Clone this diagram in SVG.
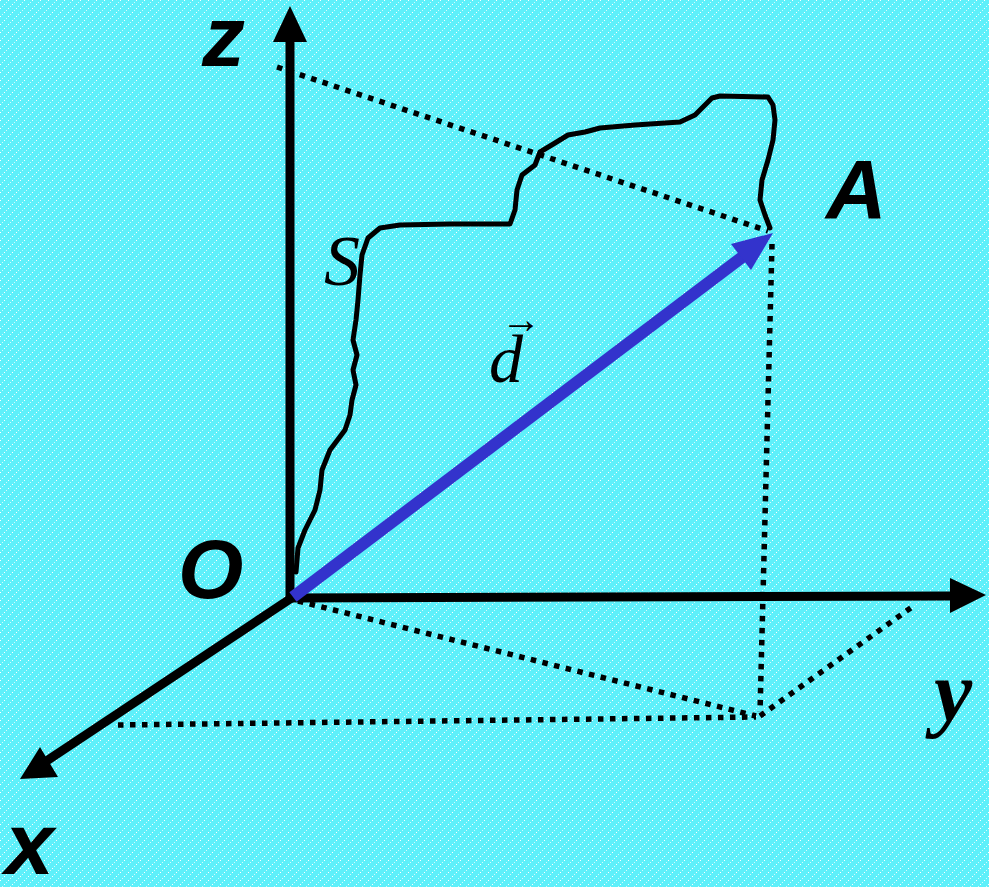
<svg xmlns="http://www.w3.org/2000/svg" width="989" height="887" viewBox="0 0 989 887">
<style>
.axis{stroke:#000;stroke-width:9;fill:none}
.dot{stroke:#000;stroke-width:5.5;stroke-dasharray:5.5 6.5;fill:none}
.sans{font-family:"Liberation Sans",Arial,sans-serif;font-weight:bold;font-style:italic;fill:#000}
.serif{font-family:"Liberation Serif","Times New Roman",serif;font-style:italic;fill:#000}
</style>
<defs>
<pattern id="bg" width="8" height="8" patternUnits="userSpaceOnUse">
<rect x="0" y="0" width="1" height="1" fill="#fff"/>
<rect x="4" y="4" width="1" height="1" fill="#fff"/>
<rect x="2" y="6" width="1" height="1" fill="#fff" fill-opacity="0.7"/>
<rect x="6" y="2" width="1" height="1" fill="#fff" fill-opacity="0.7"/>
</pattern>
</defs>
<rect width="989" height="887" fill="#5ef0fa"/>
<rect width="989" height="887" fill="url(#bg)"/>
<g id="connectors">
<line class="dot" x1="277" y1="67" x2="768" y2="231"/>
<line class="dot" x1="772" y1="244" x2="760" y2="712"/>
<line class="dot" x1="298" y1="601" x2="756" y2="716"/>
<line class="dot" x1="118" y1="725" x2="756" y2="717"/>
<line class="dot" x1="760" y1="716" x2="912" y2="607"/>
</g>
<g id="axis-z">
<line class="axis" x1="290" y1="600" x2="290" y2="38"/>
<polygon points="290,6 273,42 307,42" fill="#000"/>
</g>
<g id="axis-y">
<line class="axis" x1="287" y1="598" x2="955" y2="596"/>
<polygon points="986,595 950,578 950,613" fill="#000"/>
</g>
<g id="axis-x">
<line class="axis" x1="293" y1="597" x2="45" y2="762"/>
<polygon points="20,779 40,747 58,777" fill="#000"/>
</g>
<g id="path-S">
<polyline fill="none" stroke="#000" stroke-width="5" stroke-linejoin="round" stroke-linecap="round" points="296,572 298,548 305,530 315,510 320,490 322,470 330,450 345,430 350,415 352,400 356,385 353,370 357,355 353,340 356,320 358,300 360,275 362,255 368,238 380,228 400,225 450,224 510,224 515,210 517,190 522,175 535,165 540,152 555,143 568,135 585,132 600,128 635,125 680,122 695,115 705,105 712,98 720,96 768,97 773,105 775,120 773,140 768,160 762,180 760,200 765,215 770,228"/>
</g>
<g id="vector-d">
<line x1="293" y1="597" x2="745" y2="255" stroke="#3333cc" stroke-width="12"/>
<polygon points="773,233 751,270 731,244" fill="#3333cc"/>
</g>
<g id="labels">
<text class="sans" x="202" y="66" font-size="86">z</text>
<text class="sans" x="826" y="219" font-size="84">A</text>
<text class="sans" x="178" y="598" font-size="84">O</text>
<text class="sans" x="5" y="874" font-size="88">x</text>
<text class="serif" x="934" y="720" font-size="86" font-weight="bold">y</text>
<text class="serif" x="324" y="285" font-size="72">S</text>
<text class="serif" x="489" y="382" font-size="68">d</text>
<text font-family="Liberation Serif,serif" x="501" y="333" font-size="40" fill="#000">→</text>
</g>
</svg>
